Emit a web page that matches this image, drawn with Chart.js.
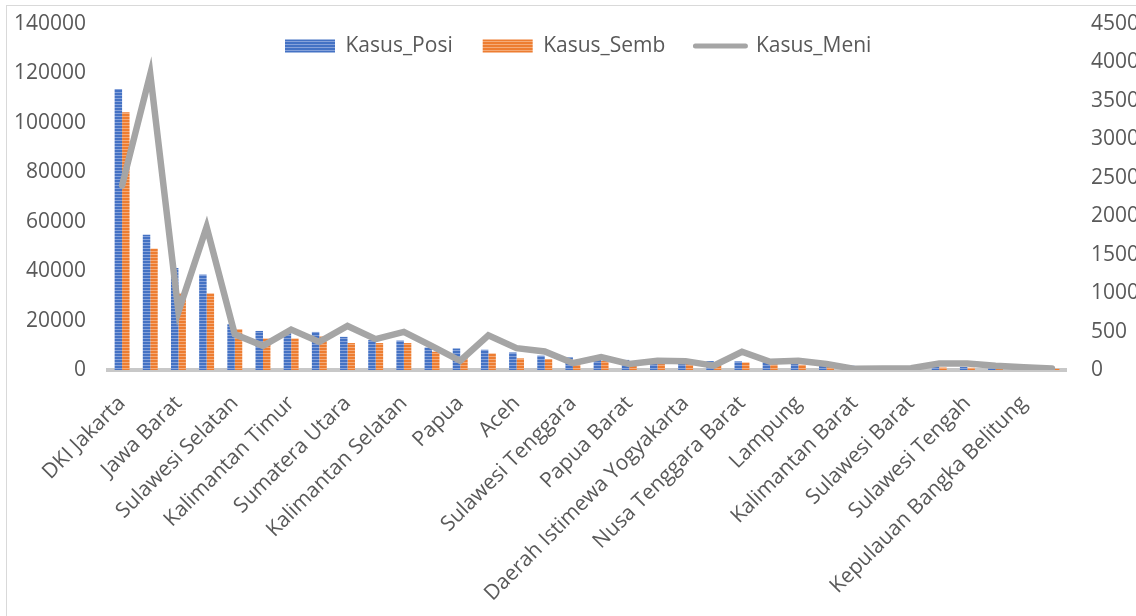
<!DOCTYPE html>
<html>
<head>
<meta charset="utf-8">
<title>Kasus COVID-19 per Provinsi</title>
<script src="https://cdn.jsdelivr.net/npm/chart.js@4.4.1/dist/chart.umd.min.js"></script>
<style>
  html, body { margin: 0; padding: 0; background: #ffffff; overflow: hidden; width: 1136px; height: 616px; }
  #frame { position: absolute; left: 6px; top: 5px; width: 1300px; height: 800px; border: 1px solid #d9d9d9; }
  #chart { position: absolute; left: 0; top: 0; }
</style>
</head>
<body>
<div id="frame"><canvas id="chart" width="1160" height="620"></canvas></div>
<script>
// Provinces, ordered by confirmed cases
const provinces = [
  'DKI Jakarta', 'Jawa Timur', 'Jawa Barat', 'Jawa Tengah', 'Sulawesi Selatan',
  'Riau', 'Kalimantan Timur', 'Sumatera Barat', 'Sumatera Utara', 'Banten',
  'Kalimantan Selatan', 'Bali', 'Papua', 'Sumatera Selatan', 'Aceh',
  'Kalimantan Tengah', 'Sulawesi Tenggara', 'Sulawesi Utara', 'Papua Barat', 'Kepulauan Riau',
  'Daerah Istimewa Yogyakarta', 'Jambi', 'Nusa Tenggara Barat', 'Maluku', 'Lampung',
  'Bengkulu', 'Kalimantan Barat', 'Gorontalo', 'Sulawesi Barat', 'Kalimantan Utara',
  'Sulawesi Tengah', 'Maluku Utara', 'Kepulauan Bangka Belitung', 'Nusa Tenggara Timur'
];

// Confirmed cases (left axis)
const kasusPositif = [
  113700, 54700, 41300, 38600, 18500,
  15800, 15800, 15400, 13400, 12100,
  11900, 9100, 8700, 8200, 7100,
  5800, 5100, 4600, 4100, 3900,
  3750, 3600, 3500, 3300, 2800,
  2300, 1800, 1600, 1400, 1300,
  1200, 1000, 900, 700
];

// Recovered (left axis)
const kasusSembuh = [
  104300, 49100, 31000, 31000, 16500,
  12750, 12750, 13550, 10900, 10900,
  10900, 7400, 4800, 6700, 4700,
  4450, 4100, 3700, 3600, 3300,
  3100, 2700, 3050, 2400, 2100,
  1600, 1400, 1300, 1100, 1000,
  900, 800, 700, 500
];

// Deaths (right axis)
const kasusMeninggal = [
  2400, 3850, 760, 1860, 465,
  315, 525, 366, 573, 401,
  495, 310, 120, 452, 284,
  240, 90, 168, 78, 120,
  115, 56, 237, 107, 120,
  78, 15, 18, 22, 85,
  85, 55, 35, 20
];

const leftTicks = [0, 20000, 40000, 60000, 80000, 100000, 120000, 140000];
const rightTicks = [0, 500, 1000, 1500, 2000, 2500, 3000, 3500, 4000, 4500];

// Horizontal-stripe fills for the bars
function stripeFill(base, light) {
  const tile = document.createElement('canvas');
  tile.width = 4; tile.height = 3;
  const g = tile.getContext('2d');
  g.fillStyle = base; g.fillRect(0, 0, 4, 3);
  g.fillStyle = light; g.fillRect(0, 2, 4, 1);
  return g.createPattern(tile, 'repeat');
}
const blueFill = stripeFill('#4472c4', '#86a2da');
const orangeFill = stripeFill('#ed7d31', '#f5ab78');

// Puts the legend over the top of the plot area
const legendPlacement = {
  id: 'legendPlacement',
  afterLayout(chart, _args, opts) {
    const lg = chart.legend;
    if (!lg) return;
    const w = lg.right - lg.left;
    lg.left = opts.left; lg.right = opts.left + w;
    lg.top = opts.top; lg.bottom = opts.top + opts.height; lg.height = opts.height;
  }
};

// Value axes: fixed width, and no extra room reserved above/below for the end labels
const fixValueAxis = width => s => {
  s.width = width;
  s.paddingTop = 0;
  s.paddingBottom = 0;
};

Chart.defaults.font.family = '"Open Sans", "DejaVu Sans", sans-serif';
Chart.defaults.font.size = 21;
Chart.defaults.color = '#595959';

const plainNumber = v => String(v);

new Chart(document.getElementById('chart'), {
  data: {
    labels: provinces,
    datasets: [
      { type: 'bar', label: 'Kasus_Posi', data: kasusPositif, yAxisID: 'y',
        backgroundColor: blueFill, borderWidth: 0, order: 2,
        categoryPercentage: 0.53, barPercentage: 1.0 },
      { type: 'bar', label: 'Kasus_Semb', data: kasusSembuh, yAxisID: 'y',
        backgroundColor: orangeFill, borderWidth: 0, order: 2,
        categoryPercentage: 0.53, barPercentage: 1.0 },
      { type: 'line', label: 'Kasus_Meni', data: kasusMeninggal, yAxisID: 'y1',
        borderColor: '#a5a5a5', backgroundColor: '#a5a5a5', borderWidth: 6.5,
        pointRadius: 0, tension: 0, fill: false, order: 1,
        borderCapStyle: 'round', borderJoinStyle: 'miter' }
    ]
  },
  options: {
    responsive: false,
    animation: false,
    layout: { padding: { top: 17, left: 0, right: 0, bottom: 0 } },
    scales: {
      x: {
        offset: true,
        grid: { display: false, drawTicks: false },
        border: { display: true, color: '#c8c8c8', width: 4 },
        ticks: {
          autoSkip: false, minRotation: 45, maxRotation: 45, padding: 21,
          font: { size: 21 },
          callback: (v, i) => (i % 2 === 0 ? provinces[i] : '')
        },
        afterFit: s => { s.height = 256; }
      },
      y: {
        position: 'left',
        min: leftTicks[0], max: leftTicks[leftTicks.length - 1],
        grid: { display: false, drawTicks: false },
        border: { display: false },
        ticks: { padding: 22, callback: plainNumber },
        afterBuildTicks: s => { s.ticks = leftTicks.map(v => ({ value: v })); },
        afterFit: fixValueAxis(101)
      },
      y1: {
        position: 'right',
        min: rightTicks[0], max: rightTicks[rightTicks.length - 1],
        grid: { display: false, drawTicks: false },
        border: { display: false },
        ticks: { padding: 25, callback: plainNumber },
        afterBuildTicks: s => { s.ticks = rightTicks.map(v => ({ value: v })); },
        afterFit: fixValueAxis(101)
      }
    },
    plugins: {
      tooltip: { enabled: false },
      legend: {
        position: 'top',
        align: 'start',
        maxHeight: 1,
        labels: {
          usePointStyle: true,
          pointStyleWidth: 50,
          boxHeight: 13,
          padding: 30,
          color: '#595959',
          font: { size: 21 },
          generateLabels: chart => chart.data.datasets.map((ds, i) => {
            const isLine = ds.type === 'line';
            return {
              text: ds.label,
              datasetIndex: i,
              hidden: false,
              fontColor: '#595959',
              pointStyle: isLine ? 'line' : 'rect',
              fillStyle: isLine ? ds.borderColor : ds.backgroundColor,
              strokeStyle: isLine ? ds.borderColor : 'rgba(0,0,0,0)',
              lineWidth: isLine ? 5 : 0,
              lineCap: 'round'
            };
          })
        }
      },
      legendPlacement: { left: 248, top: -0.5, height: 80 }
    }
  },
  plugins: [legendPlacement]
});
</script>
</body>
</html>
